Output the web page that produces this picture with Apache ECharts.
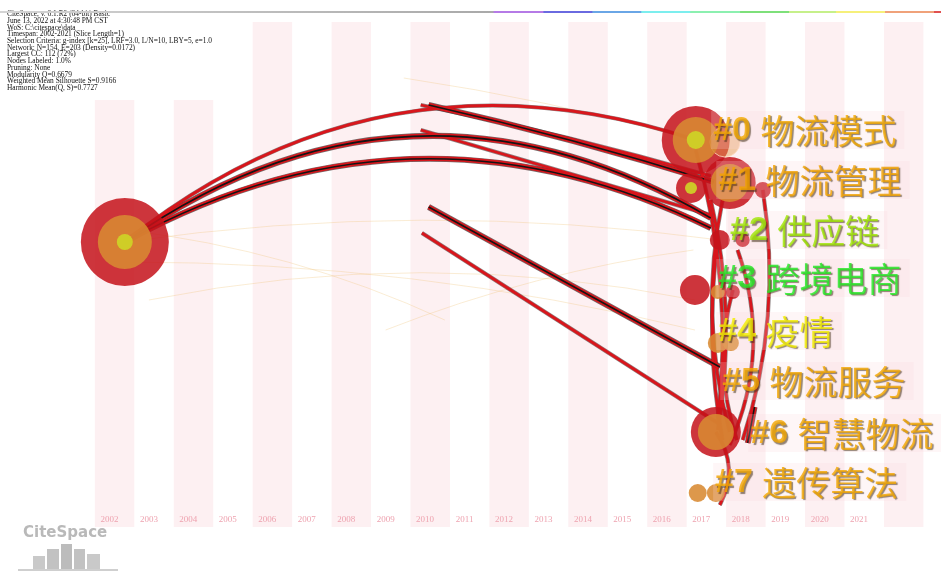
<!DOCTYPE html>
<html><head><meta charset="utf-8">
<script src="https://cdn.jsdelivr.net/npm/echarts@6/dist/echarts.min.js"></script>
<style>html,body{margin:0;padding:0;background:#fff}#c{width:941px;height:573px}</style>
</head><body><div id="c"></div>
<script>
// ---- data ----
const yearLabels = [2002,2003,2004,2005,2006,2007,2008,2009,2010,2011,2012,2013,2014,2015,2016,2017,2018,2019,2020,2021];
const stripeYears = [2002,2004,2006,2008,2010,2012,2014,2016,2018,2020,2022];

const infoLines = [
"CiteSpace, v. 6.1.R2 (64-bit) Basic",
"June 13, 2022 at 4:30:48 PM CST",
"WoS: C:\\citespace\\data",
"Timespan: 2002-2021 (Slice Length=1)",
"Selection Criteria: g-index [k=25], LRF=3.0, L/N=10, LBY=5, e=1.0",
"Network: N=154, E=203 (Density=0.0172)",
"Largest CC: 112 (72%)",
"Nodes Labeled: 1.0%",
"Pruning: None",
"Modularity Q=0.6679",
"Weighted Mean Silhouette S=0.9166",
"Harmonic Mean(Q, S)=0.7727"];

// nodes: year, vertical position, citation rings (outer red, orange, yellow), ghost ring
const nodeYear   = [2002.39,2016.86,2017.60,2016.74,2017.72,2018.56,2017.47,2018.05,2016.84,2017.42,2017.80,2017.42,2017.75,2017.37,2016.91,2017.37];
const nodeY      = [242,    140,    142,    188,    183,    190,    240,    240,    290,    292,    292,    343,    343,    432,    493,    493];
const ringRed    = [44,     34,     0,      15,     26,     8,      10,     7,      15,     0,      7,      0,      0,      25,     0,      0];
const ringOrange = [27,     23,     0,      0,      19,     0,      0,      0,      0,      7,      0,      10,     8,      18,     9,      9];
const ringYellow = [8,      9,      0,      6,      0,      0,      0,      0,      0,      0,      0,      0,      0,      0,      0,      0];
const ringGhost  = [0,      0,      15,     0,      0,      0,      0,      0,      0,      0,      0,      0,      0,      0,      0,      0];

// edges: [year1, y1, year2, y2, curveness]
const strongEdges = [
  [2002.39,242,2017.24,218,0.32],
  [2002.39,242,2017.24,228,0.26],
  [2010.09,105,2017.32,182,0.02],
  [2010.09,207,2017.47,367,0.0],
  [2018.35,407,2018.18,443,0.0]
];
const weakEdges = [
  [2002.39,242,2016.86,140,0.27],
  [2009.89,105,2017.24,176,0.02],
  [2009.89,130,2017.24,215,0.0],
  [2009.92,233,2017.42,423,0.0],
  [2017.24,200,2017.42,430,0.10],
  [2017.72,432,2017.54,200,0.12],
  [2017.54,440,2017.42,240,0.08],
  [2017.92,250,2017.72,445,0.20],
  [2017.37,432,2017.47,505,0.30],
  [2016.86,150,2017.42,420,0.10],
  [2017.90,440,2017.80,290,0.15],
  [2018.56,190,2018.05,440,0.12]
];
const faintEdges = [
  [2009.46,78,2016.66,138,0.03],
  [2002.39,242,2017.47,240,0.07],
  [2002.39,262,2016.84,330,0.06],
  [2003.00,300,2016.84,300,0.10],
  [2009.00,330,2016.80,250,0.06],
  [2002.39,230,2010.50,320,0.08]
];

// clusters
const clusterIds   = ['#0','#1','#2','#3','#4','#5','#6','#7'];
const clusterNames = ['物流模式','物流管理','供应链','跨境电商','疫情','物流服务','智慧物流','遗传算法'];
const clusterYear  = [2017.25,2017.38,2017.68,2017.38,2017.38,2017.48,2018.19,2017.30];
const clusterY     = [130,180,230,278,331,381,433,482];
const clusterColor = ['#f2a900','#f2a200','#9ee600','#22e822','#f2ee00','#f2a600','#f2a600','#f2a600'];

// ---- chart ----
const chart = echarts.init(document.getElementById('c'), null, {renderer:'canvas'});

function edgeData(list){
  return list.map(e => ({coords:[[e[0],e[1]],[e[2],e[3]]], lineStyle:{curveness:e[4]}}));
}
function ringData(arr){
  const out = [];
  arr.forEach((r,i)=>{ if(r>0) out.push([nodeYear[i], nodeY[i], r]); });
  return out;
}
function ringSeries(arr, color, z, border){
  return {type:'scatter', data: ringData(arr), symbolSize: d => 2*d[2], z: z, silent:true,
    itemStyle:Object.assign({color: color, opacity:1}, border||{})};
}
function linesSeries(list, color, width, z){
  return {type:'lines', coordinateSystem:'cartesian2d', data: edgeData(list), z: z, silent:true,
    lineStyle:{color: color, width: width, opacity:1}};
}
const shadow = {textShadowColor:'rgba(60,40,15,0.7)', textShadowBlur:1, textShadowOffsetX:1.5, textShadowOffsetY:1.5};
function richFor(color){
  return {
    n: Object.assign({color: color, fontSize:34, fontWeight:'bold', fontFamily:'Liberation Sans'}, shadow),
    t: Object.assign({color: color, fontSize:34, fontWeight:'normal', fontFamily:'Noto Sans CJK SC'}, shadow)
  };
}

const option = {
  animation:false,
  backgroundColor:'#ffffff',
  title:{text: infoLines.join('\n'), left:7, top:11, padding:0,
    textStyle:{fontSize:7.4, lineHeight:6.7, fontFamily:'Liberation Serif', color:'#111', fontWeight:'normal'}},
  grid:{left:70, right:0, top:0, bottom:43},
  xAxis:{type:'value', min:2001, max:2023, interval:1, z:10,
    axisLine:{show:false}, axisTick:{show:false}, splitLine:{show:false},
    axisLabel:{inside:true, hideOverlap:false, margin:6, fontSize:9, fontFamily:'Liberation Serif', color:'#eea3b0',
      formatter: v => yearLabels.indexOf(Math.round(v)) >= 0 ? String(Math.round(v)) : ''}},
  yAxis:{type:'value', min:0, max:530, inverse:true, show:false},
  graphic:[
    {type:'rect', shape:{x:0,y:11,width:941,height:2}, silent:true, z:10,
      style:{fill:new echarts.graphic.LinearGradient(0,0,1,0,[
        {offset:0,color:'#d4d4d4'},{offset:0.524,color:'#a9a9a9'},
        {offset:0.525,color:'#b57ae6'},{offset:0.577,color:'#b57ae6'},
        {offset:0.578,color:'#6a6ae0'},{offset:0.629,color:'#6a6ae0'},
        {offset:0.630,color:'#6aa6e6'},{offset:0.681,color:'#6aa6e6'},
        {offset:0.682,color:'#7ceeee'},{offset:0.733,color:'#7ceeee'},
        {offset:0.734,color:'#8cf0b0'},{offset:0.786,color:'#8cf0b0'},
        {offset:0.787,color:'#7ee07a'},{offset:0.838,color:'#7ee07a'},
        {offset:0.839,color:'#c6f08a'},{offset:0.888,color:'#c6f08a'},
        {offset:0.889,color:'#f6f07a'},{offset:0.940,color:'#f6f07a'},
        {offset:0.941,color:'#f0a27a'},{offset:0.992,color:'#f0a27a'},
        {offset:0.993,color:'#e05050'},{offset:1,color:'#e05050'}])}},
    {type:'text', left:23, top:526, silent:true,
      style:{text:'CiteSpace', fontSize:15, fontWeight:'bold', fontFamily:'DejaVu Sans', fill:'#b9b9b9'}},
    {type:'rect', shape:{x:33,y:556,width:12,height:13}, style:{fill:'#c9c9c9'}, silent:true},
    {type:'rect', shape:{x:47,y:549,width:12,height:20}, style:{fill:'#c2c2c2'}, silent:true},
    {type:'rect', shape:{x:61,y:544,width:11,height:25}, style:{fill:'#bcbcbc'}, silent:true},
    {type:'rect', shape:{x:74,y:549,width:11,height:20}, style:{fill:'#c2c2c2'}, silent:true},
    {type:'rect', shape:{x:87,y:554,width:13,height:15}, style:{fill:'#c9c9c9'}, silent:true},
    {type:'rect', shape:{x:18,y:569,width:100,height:2}, style:{fill:'#cfcfcf'}, silent:true}
  ],
  series:[
    {type:'line', data:[], silent:true, z:0,
      markArea:{silent:true, itemStyle:{color:'#fdf0f2'},
        data: stripeYears.map(y => [{xAxis:y-0.37, yAxis: y < 2005 ? 100 : 22},{xAxis:y+0.63, yAxis:527}])}},
    linesSeries(faintEdges, 'rgba(238,196,120,0.32)', 1, 1),
    linesSeries(weakEdges, 'rgba(70,50,50,0.6)', 4.2, 2),
    linesSeries(strongEdges, 'rgba(60,40,40,0.7)', 6, 2),
    linesSeries(weakEdges, '#d8161c', 2.8, 3),
    linesSeries(strongEdges, '#d8161c', 4.6, 3),
    linesSeries(strongEdges, '#141414', 1.5, 4),
    ringSeries(ringRed, 'rgba(196,18,26,0.85)', 5),
    ringSeries(ringGhost, 'rgba(226,150,70,0.45)', 5, {borderColor:'rgba(255,220,190,0.8)', borderWidth:1}),
    ringSeries(ringOrange, 'rgba(216,138,50,0.88)', 6),
    ringSeries(ringYellow, 'rgba(206,214,38,0.9)', 7),
    {type:'scatter', symbolSize:0, z:20, silent:true,
      data: clusterYear.map((x,i)=>({value:[x, clusterY[i]],
        label:{rich: richFor(clusterColor[i])}})),
      label:{show:true, position:'right', distance:0,
        backgroundColor:'rgba(250,214,220,0.28)', padding:[3,8,1,2],
        formatter: p => '{n|' + clusterIds[p.dataIndex] + ' }{t|' + clusterNames[p.dataIndex] + '}'}}
  ]
};
chart.setOption(option);
</script></body></html>
